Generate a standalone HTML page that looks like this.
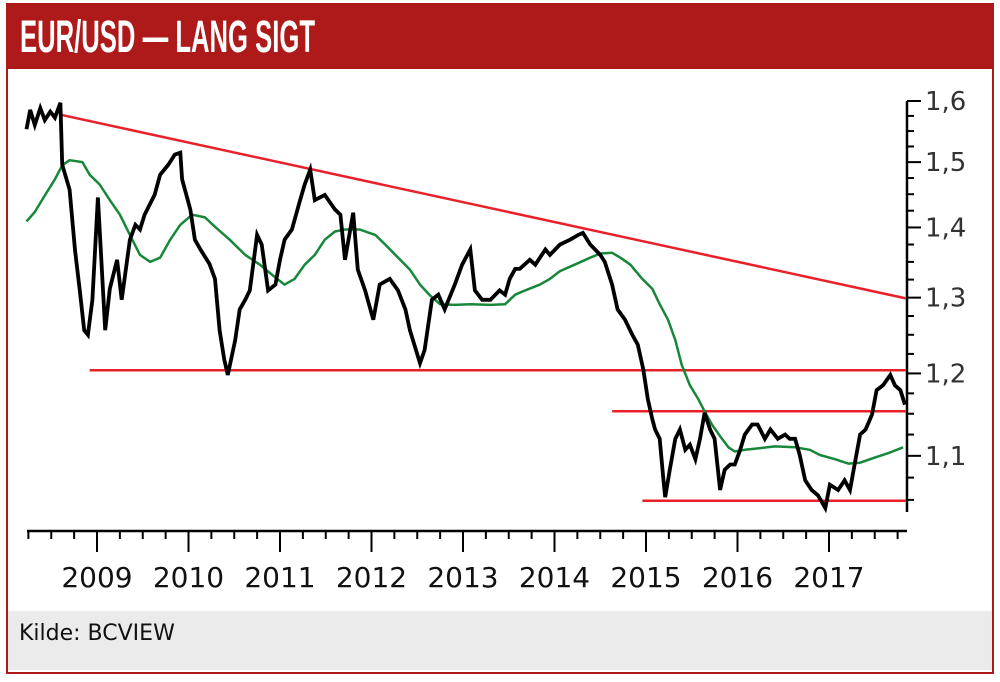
<!DOCTYPE html>
<html><head><meta charset="utf-8">
<style>
html,body{margin:0;padding:0;background:#fff;}
#wrap{position:relative;width:1000px;height:682px;overflow:hidden;background:#fff;}
#frame{position:absolute;left:6px;top:3px;width:984px;height:667px;border:2px solid #ae1a1a;box-sizing:content-box;}
#header{position:absolute;left:6px;top:3px;width:988px;height:66px;background:#ae1a1a;}
#title{position:absolute;left:14px;top:9px;color:#fff;font-family:"Liberation Sans Narrow","Liberation Sans",sans-serif;font-weight:bold;font-size:45px;line-height:50px;transform:scaleX(0.57);transform-origin:left top;white-space:nowrap;}
#footer{position:absolute;left:8px;top:611px;width:984px;height:59px;background:#ebebeb;}
#source{position:absolute;left:11px;top:10px;font-family:"DejaVu Sans",sans-serif;font-size:22px;color:#111;}
svg{position:absolute;left:0;top:0;}
</style></head>
<body>
<div id="wrap">
  <div id="header"><div id="title">EUR/USD — LANG SIGT</div></div>
  <div id="frame"></div>
  <svg id="chart" width="1000" height="682"></svg>
  <div id="footer"><div id="source">Kilde: BCVIEW</div></div>
</div>
<script>
const priceDates=[2008.23,2008.27,2008.32,2008.38,2008.43,2008.49,2008.54,2008.60,2008.62,2008.70,2008.76,2008.81,2008.86,2008.90,2008.95,2009.01,2009.09,2009.14,2009.22,2009.27,2009.36,2009.42,2009.47,2009.52,2009.63,2009.69,2009.78,2009.85,2009.91,2009.93,2010.02,2010.07,2010.13,2010.23,2010.29,2010.34,2010.39,2010.43,2010.51,2010.56,2010.62,2010.67,2010.75,2010.80,2010.87,2010.95,2011.00,2011.05,2011.13,2011.22,2011.27,2011.33,2011.38,2011.49,2011.60,2011.66,2011.71,2011.80,2011.85,2011.93,2012.02,2012.09,2012.20,2012.29,2012.37,2012.42,2012.53,2012.58,2012.66,2012.73,2012.80,2012.91,2012.99,2013.08,2013.13,2013.21,2013.30,2013.40,2013.46,2013.51,2013.57,2013.62,2013.73,2013.79,2013.90,2013.95,2014.06,2014.17,2014.26,2014.31,2014.39,2014.50,2014.55,2014.63,2014.69,2014.77,2014.85,2014.91,2014.97,2015.02,2015.07,2015.10,2015.15,2015.19,2015.21,2015.26,2015.32,2015.37,2015.43,2015.48,2015.54,2015.59,2015.64,2015.70,2015.75,2015.81,2015.86,2015.92,2015.97,2016.03,2016.08,2016.16,2016.22,2016.30,2016.36,2016.44,2016.52,2016.57,2016.63,2016.68,2016.74,2016.81,2016.88,2016.96,2017.01,2017.10,2017.17,2017.23,2017.28,2017.34,2017.40,2017.47,2017.52,2017.59,2017.67,2017.72,2017.78,2017.83];
const priceValues=[1.553,1.585,1.560,1.588,1.568,1.582,1.572,1.597,1.496,1.457,1.367,1.312,1.256,1.250,1.297,1.445,1.256,1.312,1.353,1.297,1.382,1.404,1.397,1.419,1.449,1.480,1.496,1.512,1.515,1.473,1.427,1.382,1.368,1.347,1.326,1.256,1.218,1.198,1.243,1.284,1.297,1.310,1.389,1.375,1.310,1.318,1.353,1.382,1.397,1.441,1.465,1.488,1.441,1.449,1.427,1.419,1.353,1.422,1.339,1.310,1.270,1.318,1.326,1.310,1.284,1.256,1.213,1.230,1.297,1.304,1.284,1.318,1.346,1.368,1.310,1.297,1.297,1.310,1.304,1.326,1.340,1.340,1.353,1.346,1.368,1.360,1.375,1.382,1.389,1.392,1.375,1.360,1.350,1.318,1.284,1.270,1.250,1.237,1.205,1.168,1.143,1.131,1.120,1.073,1.053,1.084,1.120,1.131,1.107,1.113,1.096,1.120,1.151,1.131,1.120,1.061,1.084,1.090,1.090,1.107,1.125,1.137,1.137,1.120,1.131,1.120,1.125,1.120,1.120,1.101,1.072,1.061,1.055,1.041,1.067,1.061,1.072,1.061,1.090,1.125,1.131,1.149,1.179,1.185,1.198,1.185,1.179,1.161];
const maDates=[2008.23,2008.32,2008.43,2008.54,2008.62,2008.70,2008.84,2008.92,2009.03,2009.14,2009.25,2009.36,2009.47,2009.58,2009.69,2009.80,2009.91,2010.04,2010.18,2010.29,2010.45,2010.62,2010.78,2010.95,2011.05,2011.16,2011.27,2011.38,2011.49,2011.60,2011.71,2011.87,2012.04,2012.15,2012.26,2012.42,2012.53,2012.64,2012.75,2012.91,2013.08,2013.30,2013.46,2013.57,2013.68,2013.84,2013.95,2014.06,2014.22,2014.39,2014.50,2014.63,2014.72,2014.83,2014.96,2015.07,2015.15,2015.24,2015.32,2015.39,2015.48,2015.57,2015.64,2015.72,2015.81,2015.90,2015.97,2016.08,2016.25,2016.41,2016.63,2016.79,2016.90,2017.07,2017.21,2017.34,2017.50,2017.67,2017.81];
const maValues=[1.409,1.423,1.448,1.473,1.495,1.503,1.500,1.480,1.465,1.441,1.419,1.389,1.360,1.350,1.356,1.382,1.404,1.419,1.415,1.401,1.382,1.360,1.346,1.328,1.318,1.326,1.346,1.360,1.382,1.394,1.397,1.397,1.389,1.375,1.360,1.339,1.318,1.303,1.291,1.290,1.291,1.290,1.291,1.304,1.310,1.318,1.326,1.337,1.346,1.356,1.362,1.363,1.356,1.346,1.326,1.312,1.291,1.270,1.243,1.211,1.185,1.168,1.153,1.137,1.123,1.110,1.105,1.107,1.109,1.111,1.110,1.107,1.101,1.096,1.091,1.092,1.098,1.104,1.110];
const trendStart=[2008.60,1.577], trendEnd=[2017.84,1.299];
const levelValues=[1.204,1.153,1.049];
const levelStarts=[2008.92,2014.63,2014.96];
const levelEnd=2017.84;
const yTickLabels=["1,6","1,5","1,4","1,3","1,2","1,1"];
const yTickValues=[1.6,1.5,1.4,1.3,1.2,1.1];
const yearLabels=["2009","2010","2011","2012","2013","2014","2015","2016","2017"];

const NS="http://www.w3.org/2000/svg";
const svg=document.getElementById('chart');
const X=t=>97+(t-2009)*91.5;
const Y=v=>101+Math.log(1.6/v)*947;
function mk(tag,attrs,parent){const e=document.createElementNS(NS,tag);for(const k in attrs)e.setAttribute(k,attrs[k]);(parent||svg).appendChild(e);return e;}
function poly(ds,vs){return ds.map((d,i)=>X(d).toFixed(1)+','+Y(vs[i]).toFixed(1)).join(' ');}

const yAxis=mk('line',{x1:907,y1:Y(1.6),x2:907,y2:512,stroke:'#000','stroke-width':2.5});


for(let v=1.05;v<=1.6001;v+=0.025){
  const major=Math.abs(v*10-Math.round(v*10))<0.001;
  const t=mk('line',{x1:907,y1:Y(v),x2:major?921:914,y2:Y(v),stroke:'#000','stroke-width':2});
  
  
}
yTickValues.forEach((v,i)=>{
  const t=mk('text',{x:925,y:Y(v)+9,'font-family':'DejaVu Sans, sans-serif','font-size':'26',fill:'#333'});
  t.textContent=yTickLabels[i];
  
  
});
const xAxis=mk('line',{x1:27,y1:531,x2:907,y2:531,stroke:'#000','stroke-width':2.5});


for(let q=0;q<=38;q++){
  const t0=2008.25+q*0.25;
  const major=(q%4)===3;
  const t=mk('line',{x1:X(t0),y1:531,x2:X(t0),y2:major?552:539,stroke:'#000','stroke-width':2});
  
  
}
yearLabels.forEach(l=>{
  const t=mk('text',{x:X(+l),y:587,'text-anchor':'middle','font-family':'DejaVu Sans, sans-serif','font-size':'28',fill:'#111'});
  t.textContent=l;
  
  
});

const tr=mk('line',{x1:X(trendStart[0]),y1:Y(trendStart[1]),x2:X(trendEnd[0]),y2:Y(trendEnd[1]),stroke:'#e8202a','stroke-width':2.5});


levelValues.forEach((v,i)=>{
  const l=mk('line',{x1:X(levelStarts[i]),y1:Y(v),x2:X(levelEnd),y2:Y(v),stroke:'#e8202a','stroke-width':2.5});
  
  
});

const ma=mk('polyline',{points:poly(maDates,maValues),fill:'none',stroke:'#17873a','stroke-width':2.5,'stroke-linejoin':'round'});


const pr=mk('polyline',{points:poly(priceDates,priceValues),fill:'none',stroke:'#000','stroke-width':3.8,'stroke-linejoin':'miter'});


</script>
</body></html>
